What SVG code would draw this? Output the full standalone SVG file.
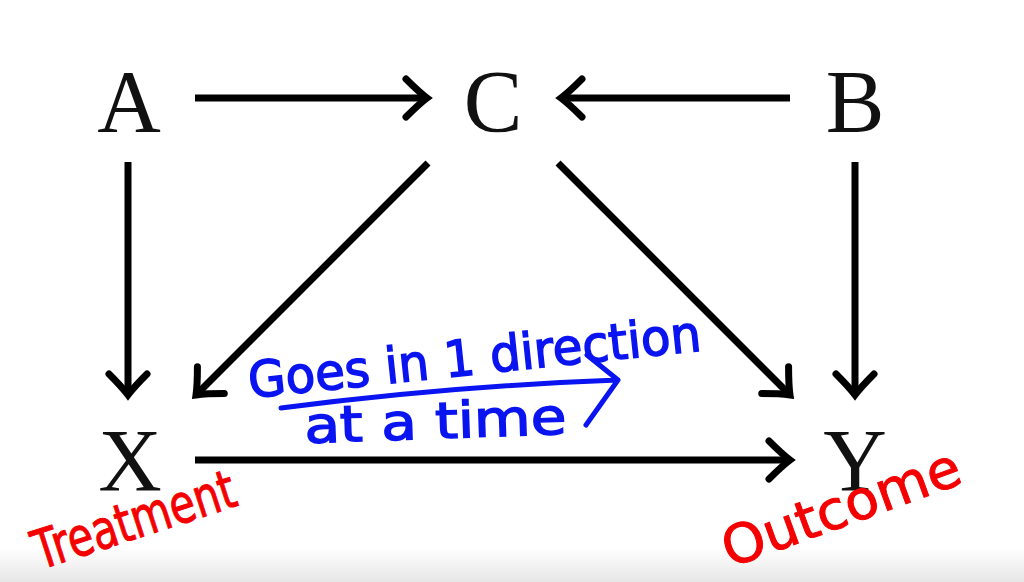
<svg xmlns="http://www.w3.org/2000/svg" width="1024" height="582" viewBox="0 0 1024 582">
<style>
.lbl{font-family:"Liberation Serif","DejaVu Serif",serif;font-size:88px;fill:#111;text-anchor:middle}
.edge{stroke:#000;stroke-width:7;fill:none;stroke-linecap:butt}
.blue{font-family:"DejaVu Sans","Liberation Sans",sans-serif;fill:#0a14f0;stroke:#0a14f0;stroke-width:1.5;font-size:50px}
.red{font-family:"DejaVu Sans","Liberation Sans",sans-serif;fill:#f40000;stroke:#f40000;stroke-width:1;font-size:54px}
</style>
<defs>
<marker id="ah" markerUnits="userSpaceOnUse" markerWidth="40" markerHeight="50" viewBox="-30 -25 40 50" refX="0" refY="0" orient="auto" overflow="visible">
<path d="M -21 -19 Q -8 -6 0 0 Q -8 6 -21 19" fill="none" stroke="#000" stroke-width="7" stroke-linecap="round"/>
</marker>
<linearGradient id="bg" x1="0" y1="0" x2="0" y2="1">
<stop offset="0" stop-color="#fff"/>
<stop offset="1" stop-color="#e6e6e6"/>
</linearGradient>
</defs>
<rect width="1024" height="582" fill="#fff"/>
<rect x="0" y="548" width="1024" height="34" fill="url(#bg)"/>
<g id="connectors">
<line class="edge" x1="195" y1="98" x2="427" y2="98" marker-end="url(#ah)"/>
<line class="edge" x1="790" y1="98" x2="561" y2="98" marker-end="url(#ah)"/>
<line class="edge" x1="128" y1="162" x2="128" y2="395" marker-end="url(#ah)"/>
<line class="edge" x1="855" y1="162" x2="855" y2="395" marker-end="url(#ah)"/>
<line class="edge" x1="428" y1="163" x2="196" y2="395" marker-end="url(#ah)"/>
<line class="edge" x1="558" y1="163" x2="790" y2="395" marker-end="url(#ah)"/>
<line class="edge" x1="195" y1="460" x2="790" y2="460" marker-end="url(#ah)"/>
</g>
<g id="node-A"><text class="lbl" x="129" y="131">A</text></g>
<g id="node-C"><text class="lbl" x="493" y="131">C</text></g>
<g id="node-B"><text class="lbl" x="855" y="131">B</text></g>
<g id="node-X"><text class="lbl" x="130" y="490">X</text></g>
<g id="node-Y"><text class="lbl" x="855" y="490">Y</text></g>
<g id="annotation-blue">
<text class="blue" x="250" y="398" transform="rotate(-6 250 398)" textLength="455" lengthAdjust="spacingAndGlyphs">Goes in 1 direction</text>
<text class="blue" x="305" y="443" transform="rotate(-2 305 443)" textLength="262" lengthAdjust="spacingAndGlyphs">at a time</text>
<path d="M 281 408 Q 450 386 618 380 M 587 355 L 618 380 L 586 425" fill="none" stroke="#0a14f0" stroke-width="5" stroke-linecap="round" stroke-linejoin="round"/>
</g>
<g id="annotation-red">
<text class="red" x="40" y="570" transform="rotate(-18 40 570)" textLength="210" lengthAdjust="spacingAndGlyphs">Treatment</text>
<text class="red" x="730" y="568" transform="rotate(-20 730 568)" textLength="250" lengthAdjust="spacingAndGlyphs">Outcome</text>
</g>
</svg>
